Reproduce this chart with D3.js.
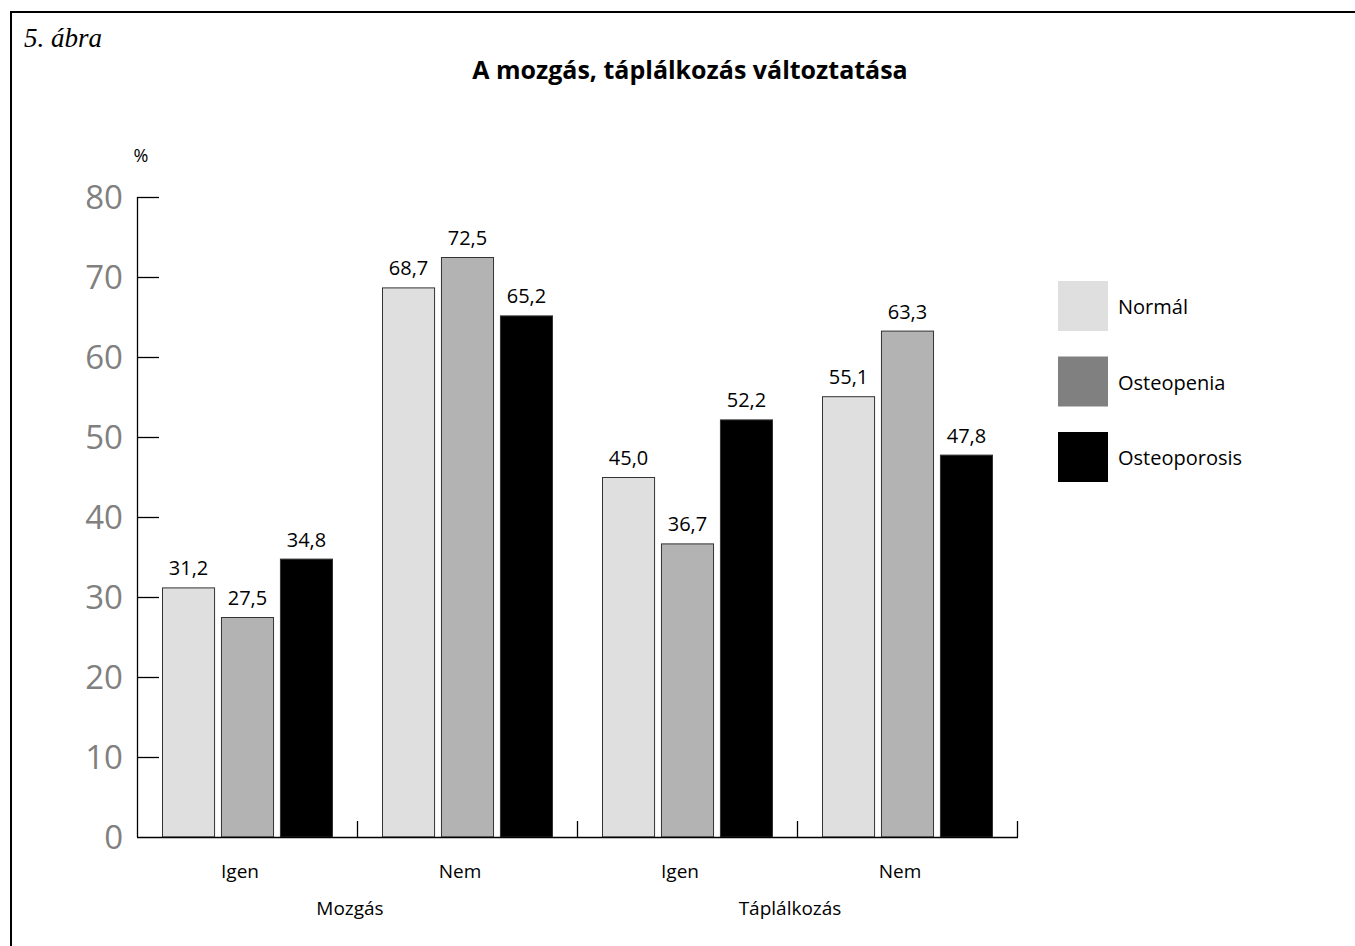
<!DOCTYPE html>
<html>
<head>
<meta charset="utf-8">
<script src="https://cdn.jsdelivr.net/npm/d3@7"></script>
<style>
  html, body { margin: 0; padding: 0; background: #fff; }
  svg { display: block; }
</style>
</head>
<body>
<svg id="chart" width="1355" height="946"></svg>
<script>
// Categories, series and ticks
const categories = ["Igen", "Nem", "Igen", "Nem"];
const groupLabels = ["Mozgás", "Táplálkozás"];
const seriesNames = ["Normál", "Osteopenia", "Osteoporosis"];
const normal = [31.2, 68.7, 45.0, 55.1];
const osteopenia = [27.5, 72.5, 36.7, 63.3];
const osteoporosis = [34.8, 65.2, 52.2, 47.8];
const yTicks = [0, 10, 20, 30, 40, 50, 60, 70, 80];

const seriesValues = [normal, osteopenia, osteoporosis];
const barColors = ["#dfdfdf", "#b3b3b3", "#000000"];
const legendColors = ["#dfdfdf", "#808080", "#000000"];

const svg = d3.select("#chart");
const sans = "'Open Sans', 'Noto Sans', sans-serif";

// Frame: top and left rules
svg.append("line").attr("x1", 10).attr("x2", 1355).attr("y1", 12).attr("y2", 12)
  .attr("stroke", "#000").attr("stroke-width", 2);
svg.append("line").attr("x1", 11).attr("x2", 11).attr("y1", 11).attr("y2", 946)
  .attr("stroke", "#000").attr("stroke-width", 2);

svg.append("text")
  .attr("x", 24).attr("y", 47)
  .attr("font-family", "'Liberation Serif', serif")
  .attr("font-style", "italic").attr("font-size", 27)
  .text("5. ábra");

svg.append("text")
  .attr("x", 690).attr("y", 79)
  .attr("text-anchor", "middle")
  .attr("font-family", sans).attr("font-weight", "bold").attr("font-size", 25)
  .text("A mozgás, táplálkozás változtatása");

// Scales
const x0 = d3.scaleBand().domain(d3.range(categories.length)).range([137, 1017]).padding(0);
const x1 = d3.scaleBand().domain(d3.range(seriesNames.length)).range([25, 196]).paddingInner(0.1);
const y = d3.scaleLinear().domain([0, 80]).range([837, 197]);

// Y axis: ticks pointing inwards, large grey labels
const yAxis = svg.append("g").attr("transform", "translate(137,0)");
yAxis.append("line").attr("x1", 0.5).attr("x2", 0.5).attr("y1", y(80)).attr("y2", y(0))
  .attr("stroke", "#000").attr("stroke-width", 1.3);
yAxis.selectAll("line.tick").data(yTicks.slice(1)).join("line")
  .attr("class", "tick")
  .attr("x1", 0).attr("x2", 22)
  .attr("y1", d => y(d) + 0.5).attr("y2", d => y(d) + 0.5)
  .attr("stroke", "#000").attr("stroke-width", 1.3);
yAxis.selectAll("text").data(yTicks).join("text")
  .attr("x", -14).attr("y", d => y(d) + 12)
  .attr("text-anchor", "end")
  .attr("font-family", sans).attr("font-size", 33).attr("fill", "#808080")
  .text(d => d);

svg.append("text")
  .attr("x", 141).attr("y", 162)
  .attr("text-anchor", "middle")
  .attr("font-family", sans).attr("font-size", 18)
  .text("%");

// Bars
const groups = svg.append("g").selectAll("g").data(categories).join("g")
  .attr("transform", (d, i) => `translate(${x0(i)},0)`);

groups.each(function(cat, ci) {
  const g = d3.select(this);
  seriesValues.forEach((vals, si) => {
    const v = vals[ci];
    g.append("rect")
      .attr("x", x1(si) + 0.5).attr("y", y(v) + 0.5)
      .attr("width", x1.bandwidth() - 1).attr("height", y(0) - y(v) - 0.5)
      .attr("fill", barColors[si]).attr("stroke", "#333").attr("stroke-width", 1);
    g.append("text")
      .attr("x", x1(si) + x1.bandwidth() / 2).attr("y", y(v) - 12)
      .attr("text-anchor", "middle")
      .attr("font-family", sans).attr("font-size", 20)
      .text(d3.format(".1f")(v).replace(".", ","));
  });
});

// X axis with upward ticks at group boundaries
svg.append("line").attr("x1", 137).attr("x2", 1018).attr("y1", 837.5).attr("y2", 837.5)
  .attr("stroke", "#000").attr("stroke-width", 1.3);
svg.selectAll("line.xtick").data(d3.range(1, categories.length + 1)).join("line")
  .attr("class", "xtick")
  .attr("x1", i => x0(i - 1) + x0.bandwidth() + 0.5).attr("x2", i => x0(i - 1) + x0.bandwidth() + 0.5)
  .attr("y1", 821).attr("y2", 837)
  .attr("stroke", "#000").attr("stroke-width", 1.3);

svg.append("g").selectAll("text").data(categories).join("text")
  .attr("x", (d, i) => x0(i) + x0.bandwidth() / 2 - 7)
  .attr("y", 878)
  .attr("text-anchor", "middle")
  .attr("font-family", sans).attr("font-size", 19)
  .text(d => d);

svg.append("g").selectAll("text").data(groupLabels).join("text")
  .attr("x", (d, i) => x0(i * 2) + x0.bandwidth() - 7)
  .attr("y", 915)
  .attr("text-anchor", "middle")
  .attr("font-family", sans).attr("font-size", 19)
  .text(d => d);

// Legend
const legend = svg.append("g").selectAll("g").data(seriesNames).join("g")
  .attr("transform", (d, i) => `translate(1058,${281 + i * 75.5})`);
legend.append("rect").attr("width", 50).attr("height", 50)
  .attr("fill", (d, i) => legendColors[i]);
legend.append("text")
  .attr("x", 60).attr("y", 33)
  .attr("font-family", sans).attr("font-size", 20)
  .text(d => d);
</script>
</body>
</html>
